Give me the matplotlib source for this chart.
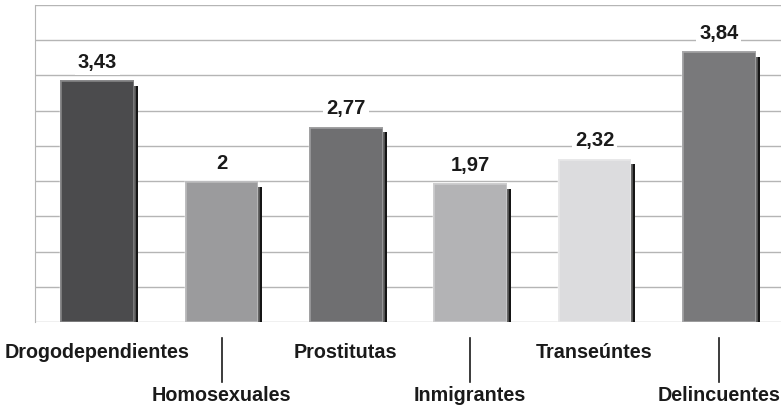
import matplotlib.pyplot as plt
import matplotlib.patheffects as pe
from matplotlib.transforms import blended_transform_factory

categories = ["Drogodependientes", "Homosexuales", "Prostitutas", "Inmigrantes", "Transeúntes", "Delincuentes"]
values = [3.43, 2, 2.77, 1.97, 2.32, 3.84]
value_labels = ["3,43", "2", "2,77", "1,97", "2,32", "3,84"]
colors = ["#4b4b4d", "#9b9b9d", "#6f6f71", "#b3b3b5", "#dcdcde", "#79797b"]

plt.rcParams['font.family'] = ['Liberation Sans', 'DejaVu Sans']

fig = plt.figure(figsize=(7.81, 4.09), dpi=100)
ax = fig.add_axes([35 / 781, 1 - 322 / 409, 1 - 35 / 781, 317 / 409])

x = list(range(len(categories)))
bars = ax.bar(x, values, width=0.59, color=colors, edgecolor="#00000000", zorder=3)
for b, c in zip(bars, colors):
    b.set_path_effects([pe.SimplePatchShadow(offset=(3, -4), shadow_rgbFace="#151515", alpha=1.0), pe.Normal()])
    # bevel highlight
    ax.bar(b.get_x() + b.get_width() / 2, b.get_height(), width=b.get_width(), color="none",
           edgecolor="white", linewidth=1.8, alpha=0.35, zorder=4)

for xi, v, lab in zip(x, values, value_labels):
    ax.annotate(lab, (xi, v), xytext=(0, 13), textcoords="offset points", ha="center", va="center",
                fontsize=14.5, fontweight="bold", color="#1a1a1a", zorder=5,
                bbox=dict(boxstyle="square,pad=0.15", fc="white", ec="none"))

ax.set_xlim(-0.5, len(categories) - 0.5)
ax.set_ylim(0, 4.5)
ax.set_yticks([i * 0.5 for i in range(10)])
ax.yaxis.grid(True, color="#b5b5b5", linewidth=1.0)
ax.set_axisbelow(True)
ax.tick_params(left=False, bottom=False, labelleft=False, labelbottom=False)
for s in ["top", "right", "bottom"]:
    ax.spines[s].set_visible(False)
ax.spines["left"].set_color("#b5b5b5")

trans = blended_transform_factory(ax.transData, ax.transAxes)
for i, cat in enumerate(categories):
    if i % 2 == 0:
        ax.text(i, -0.095, cat, transform=trans, ha="center", va="center", fontsize=14.2,
                fontweight="bold", color="#1a1a1a", clip_on=False)
    else:
        ax.plot([i, i], [-0.05, -0.189], transform=trans, color="#1a1a1a", linewidth=1.2, clip_on=False)
        ax.text(i, -0.233, cat, transform=trans, ha="center", va="center", fontsize=14.2,
                fontweight="bold", color="#1a1a1a", clip_on=False)

fig.savefig("out.png", dpi=100)
